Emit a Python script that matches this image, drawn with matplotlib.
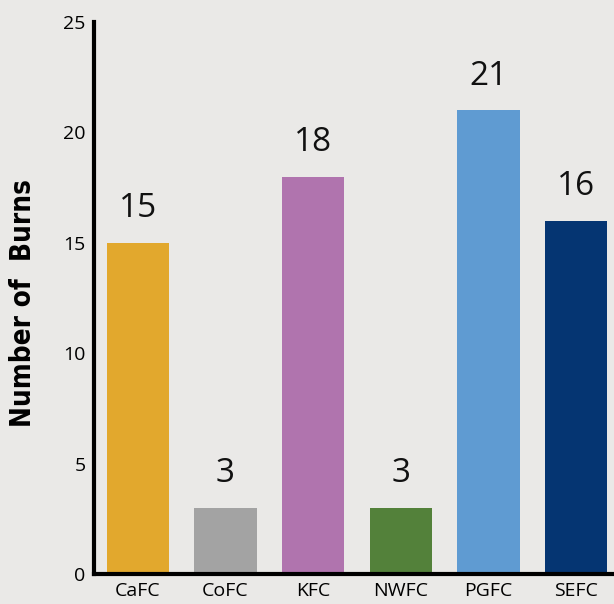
import matplotlib.pyplot as plt

centers = ["CaFC", "CoFC", "KFC", "NWFC", "PGFC", "SEFC"]
burns = [15, 3, 18, 3, 21, 16]
colors = ["#E2A82D", "#A3A3A3", "#B074AE", "#53813A", "#5F9BD2", "#053572"]
yticks = [0, 5, 10, 15, 20, 25]

bg = "#EAE9E7"
plt.rcParams['font.family'] = ['Open Sans', 'DejaVu Sans']

fig = plt.figure(figsize=(6.14, 6.04), dpi=100, facecolor=bg)
ax = fig.add_axes([0.153, 0.0497, 0.847, 0.914])
ax.set_facecolor(bg)

x = range(len(centers))
ax.bar(x, burns, width=0.71, color=colors)

for i, v in enumerate(burns):
    ax.text(i, v + 1.15, str(v), ha="center", va="baseline", fontsize=24, color="#111111")

ax.set_xlim(-0.5, 5.43)
ax.set_ylim(0, 25)
ax.set_xticks(list(x))
ax.set_xticklabels(centers, fontsize=14)
ax.set_yticks(yticks)
ax.set_yticklabels([str(t) for t in yticks], fontsize=14)
ax.tick_params(length=0, pad=6)

for s in ["top", "right"]:
    ax.spines[s].set_visible(False)
for s in ["left", "bottom"]:
    ax.spines[s].set_linewidth(3)
    ax.spines[s].set_color("black")

ax.set_ylabel("Number of  Burns", fontsize=20, fontweight="bold", fontstretch="condensed",
              family=["DejaVu Sans"])
ax.yaxis.set_label_coords(-0.11, 0.49)

fig.savefig("out.png", dpi=100, facecolor=bg)
